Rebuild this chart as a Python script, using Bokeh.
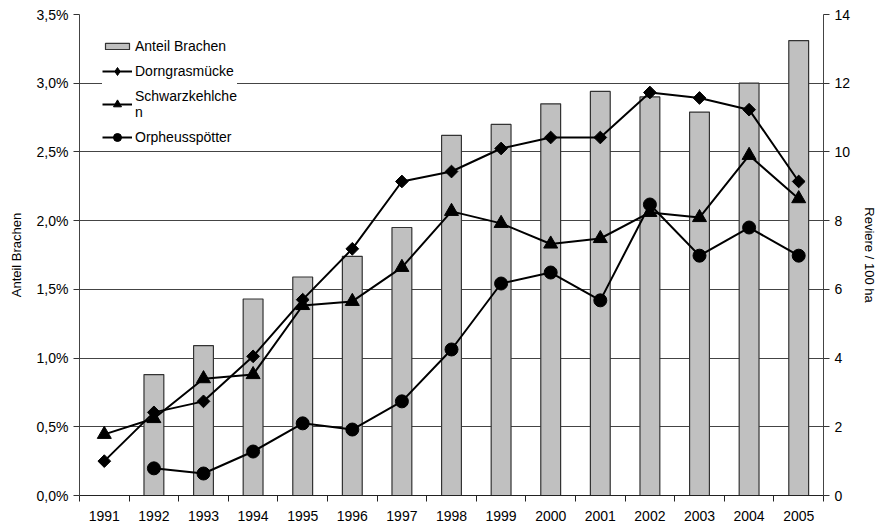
import math
from bokeh.plotting import figure
from bokeh.models import (Range1d, LinearAxis, FixedTicker, CustomJSTickFormatter,
                          Legend, LegendItem, ColumnDataSource)
from bokeh.embed import file_html
from bokeh.resources import INLINE

years = [1991, 1992, 1993, 1994, 1995, 1996, 1997, 1998, 1999, 2000, 2001, 2002, 2003, 2004, 2005]
anteil_brachen = [0.0, 0.88, 1.09, 1.43, 1.59, 1.74, 1.95, 2.62, 2.70, 2.85, 2.94, 2.90, 2.79, 3.00, 3.31]
dorngrasmuecke = [1.0, 2.42, 2.74, 4.05, 5.70, 7.18, 9.14, 9.43, 10.1, 10.42, 10.42, 11.73, 11.57, 11.23, 9.14]
schwarzkehlchen = [1.78, 2.24, 3.40, 3.52, 5.53, 5.65, 6.64, 8.27, 7.92, 7.32, 7.48, 8.24, 8.09, 9.90, 8.64]
orpheusspoetter = [float("nan"), 0.79, 0.64, 1.28, 2.10, 1.92, 2.74, 4.25, 6.17, 6.49, 5.68, 8.47, 6.98, 7.80, 6.98]

left_ticks = [0.0, 0.5, 1.0, 1.5, 2.0, 2.5, 3.0, 3.5]
right_ticks = [0, 2, 4, 6, 8, 10, 12, 14]

FONT = "Liberation Sans"

src = ColumnDataSource(dict(x=years, bra=anteil_brachen, dg=dorngrasmuecke,
                            sk=schwarzkehlchen, op=orpheusspoetter))

p = figure(width=880, height=526, output_backend="svg", toolbar_location=None,
           x_range=Range1d(years[0] - 0.5, years[-1] + 0.5),
           y_range=Range1d(left_ticks[0], left_ticks[-1]),
           min_border_left=79, min_border_right=55, min_border_top=14, min_border_bottom=31)
p.extra_y_ranges = {"rev": Range1d(right_ticks[0], right_ticks[-1])}
p.outline_line_color = None
p.background_fill_color = "white"
p.border_fill_color = "white"

# x axis
xa = p.xaxis[0]
xa.ticker = FixedTicker(ticks=years, minor_ticks=[y - 0.5 for y in years] + [years[-1] + 0.5])
xa.major_tick_line_color = None
xa.minor_tick_line_color = "#222222"
xa.minor_tick_out = 6
xa.minor_tick_in = 0
xa.axis_line_color = "#222222"
xa.major_label_text_font = FONT
xa.major_label_text_font_size = "14px"
xa.major_label_text_color = "black"
xa.major_label_standoff = 9
p.xgrid.visible = False

# left axis
ya = p.yaxis[0]
ya.ticker = FixedTicker(ticks=left_ticks)
ya.formatter = CustomJSTickFormatter(code="return tick.toFixed(1).replace('.', ',') + '%'")
ya.minor_tick_line_color = None
ya.major_tick_out = 6
ya.major_tick_in = 0
ya.major_tick_line_color = "#333333"
ya.axis_line_color = "#444444"
ya.major_label_text_font = FONT
ya.major_label_text_font_size = "14px"
ya.major_label_text_color = "black"
ya.major_label_standoff = 5
ya.axis_label = "Anteil Brachen"
ya.axis_label_text_font = FONT
ya.axis_label_text_font_size = "13px"
ya.axis_label_text_font_style = "normal"
ya.axis_label_text_color = "black"
ya.axis_label_standoff = 10
p.ygrid.ticker = FixedTicker(ticks=left_ticks)
p.ygrid.grid_line_color = "#444444"
p.ygrid.grid_line_width = 1

# right axis
ra = LinearAxis(y_range_name="rev", ticker=FixedTicker(ticks=right_ticks))
ra.minor_tick_line_color = None
ra.major_tick_out = 6
ra.major_tick_in = 0
ra.major_tick_line_color = "#333333"
ra.axis_line_color = "#444444"
ra.major_label_text_font = FONT
ra.major_label_text_font_size = "14px"
ra.major_label_text_color = "black"
ra.major_label_standoff = 5
ra.axis_label = "Reviere / 100 ha"
ra.axis_label_text_font = FONT
ra.axis_label_text_font_size = "13px"
ra.axis_label_text_font_style = "normal"
ra.axis_label_text_color = "black"
ra.axis_label_standoff = 9
p.add_layout(ra, "right")

bars = p.vbar(x="x", top="bra", width=0.4, bottom=0, source=src,
              fill_color="#C0C0C0", line_color="#333333", line_width=1.2)

l1 = p.line("x", "dg", source=src, y_range_name="rev", line_color="black", line_width=2)
m1 = p.scatter("x", "dg", source=src, y_range_name="rev", marker="square", angle=math.pi / 4,
               size=9, fill_color="black", line_color="black")
# legend-only marker (legend swatches ignore marker angle)
m1_key = p.scatter("x", "dg", source=src, y_range_name="rev", marker="diamond",
                   size=9, fill_color="black", line_color="black", visible=False)
l2 = p.line("x", "sk", source=src, y_range_name="rev", line_color="black", line_width=2)
m2 = p.scatter("x", "sk", source=src, y_range_name="rev", marker="triangle",
               size=14, fill_color="black", line_color="black")
l3 = p.line("x", "op", source=src, y_range_name="rev", line_color="black", line_width=2)
m3 = p.scatter("x", "op", source=src, y_range_name="rev", marker="circle",
               size=13, fill_color="black", line_color="black")


def style_legend(lg, gh, spacing):
    lg.label_text_font = FONT
    lg.label_text_font_size = "14px"
    lg.label_text_color = "black"
    lg.label_standoff = 3
    lg.glyph_width = 30
    lg.glyph_height = gh
    lg.label_height = 20
    lg.spacing = spacing
    lg.padding = 10
    lg.margin = 0
    lg.border_line_color = None
    lg.background_fill_color = "white"
    lg.background_fill_alpha = 1.0


legend_bar = Legend(items=[LegendItem(label="Anteil Brachen", renderers=[bars])])
style_legend(legend_bar, 8, 0)
legend_bar.location = (23, 439)

legend_lines = Legend(items=[
    LegendItem(label="Dorngrasmücke", renderers=[l1, m1_key]),
    LegendItem(label="Schwarzkehlche\nn", renderers=[l2, m2]),
    LegendItem(label="Orpheusspötter", renderers=[l3, m3]),
])
style_legend(legend_lines, 20, 7)
legend_lines.location = (23, 348)

p.add_layout(legend_bar, "center")
p.add_layout(legend_lines, "center")

open("out.html", "w").write(file_html(p, INLINE))
